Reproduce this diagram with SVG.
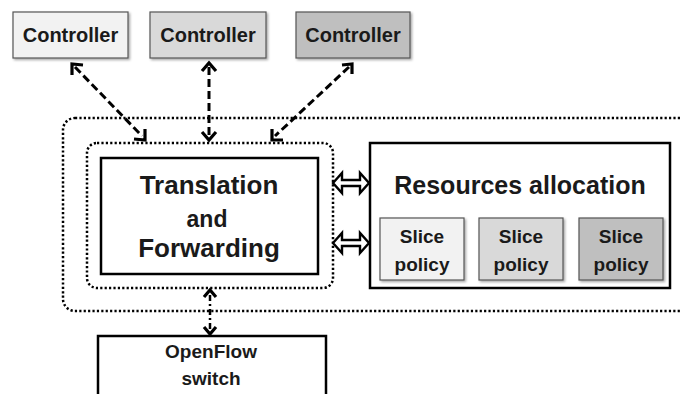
<svg xmlns="http://www.w3.org/2000/svg" width="681" height="394" viewBox="0 0 681 394">
<defs>
<style>
.t{font-family:"Liberation Sans",Arial,sans-serif;font-weight:bold;fill:#1a1a1a;text-anchor:middle}
.ctl{stroke:#555;stroke-width:1.2}
.dot{fill:none;stroke:#000;stroke-width:2.5;stroke-dasharray:2.2,2.2}
.box{fill:#fff;stroke:#000;stroke-width:2.5}
.dash{fill:none;stroke:#000;stroke-width:3;stroke-dasharray:8,4}
.head{fill:none;stroke:#000;stroke-width:3.2;stroke-linejoin:miter}
.dbl{fill:#fff;stroke:#000;stroke-width:2.4;stroke-linejoin:miter}
</style>
<filter id="sh" x="-10%" y="-10%" width="130%" height="130%"><feDropShadow dx="1.5" dy="1.5" stdDeviation="1" flood-color="#000" flood-opacity="0.35"/></filter>
</defs>
<rect width="681" height="394" fill="#fff"/>

<g id="outer-frame"><rect class="dot" x="63" y="118" width="650" height="193" rx="12"/></g>
<g id="inner-frame"><rect class="dot" x="87" y="143" width="246" height="145" rx="10"/></g>

<g id="controller1"><rect class="ctl" x="13" y="12" width="115" height="46" fill="#f2f2f2" filter="url(#sh)"/><text class="t" x="70.5" y="42" font-size="20">Controller</text></g>
<g id="controller2"><rect class="ctl" x="150" y="12" width="116" height="46" fill="#d9d9d9" filter="url(#sh)"/><text class="t" x="208" y="42" font-size="20">Controller</text></g>
<g id="controller3"><rect class="ctl" x="296" y="12" width="114" height="46" fill="#bfbfbf" filter="url(#sh)"/><text class="t" x="353" y="42" font-size="20">Controller</text></g>

<g id="translation"><rect class="box" x="101" y="158" width="217" height="116"/>
<text class="t" x="209" y="194" font-size="26">Translation</text>
<text class="t" x="207" y="227" font-size="23">and</text>
<text class="t" x="209" y="257" font-size="26">Forwarding</text></g>

<g id="resources"><rect class="box" x="370" y="143" width="300" height="145"/>
<text class="t" x="520" y="194" font-size="25">Resources allocation</text></g>
<g id="slice1"><rect class="ctl" x="380" y="218" width="84" height="62" fill="#f2f2f2" filter="url(#sh)"/><text class="t" x="422" y="243" font-size="19">Slice</text><text class="t" x="422" y="271" font-size="19">policy</text></g>
<g id="slice2"><rect class="ctl" x="479" y="218" width="84" height="62" fill="#d9d9d9" filter="url(#sh)"/><text class="t" x="521" y="243" font-size="19">Slice</text><text class="t" x="521" y="271" font-size="19">policy</text></g>
<g id="slice3"><rect class="ctl" x="579" y="218" width="84" height="62" fill="#bfbfbf" filter="url(#sh)"/><text class="t" x="621" y="243" font-size="19">Slice</text><text class="t" x="621" y="271" font-size="19">policy</text></g>

<g id="openflow"><rect class="box" x="98" y="336" width="228" height="70"/>
<text class="t" x="211" y="358" font-size="19">OpenFlow</text>
<text class="t" x="211" y="385" font-size="19">switch</text></g>

<g id="connectors">
<line class="dash" x1="75" y1="67" x2="142" y2="136"/>
<path class="head" d="M72,75 L72,64 L83,65"/>
<path class="head" d="M145,129 L145,140 L134,139"/>
<line class="dash" x1="209" y1="67" x2="209" y2="136"/>
<path class="head" d="M202,71 L209,63 L216,71"/>
<path class="head" d="M202,132 L209,140 L216,132"/>
<line class="dash" x1="349" y1="67" x2="275" y2="136"/>
<path class="head" d="M342,65 L352,64 L352,74"/>
<path class="head" d="M272,129 L272,140 L283,140"/>
<line x1="210" y1="295" x2="210" y2="330" stroke="#000" stroke-width="2.5" stroke-dasharray="6,3,2,3"/>
<path class="head" d="M204,297 L210,290 L216,297"/>
<path class="head" d="M204,327 L210,334 L216,327"/>
<path class="dbl" d="M333,183 L342,173 L342,180 L360,180 L360,173 L369,183 L360,193 L360,186 L342,186 L342,193 Z"/>
<path class="dbl" d="M333,243 L342,233 L342,240 L360,240 L360,233 L369,243 L360,253 L360,246 L342,246 L342,253 Z"/>
</g>
</svg>
